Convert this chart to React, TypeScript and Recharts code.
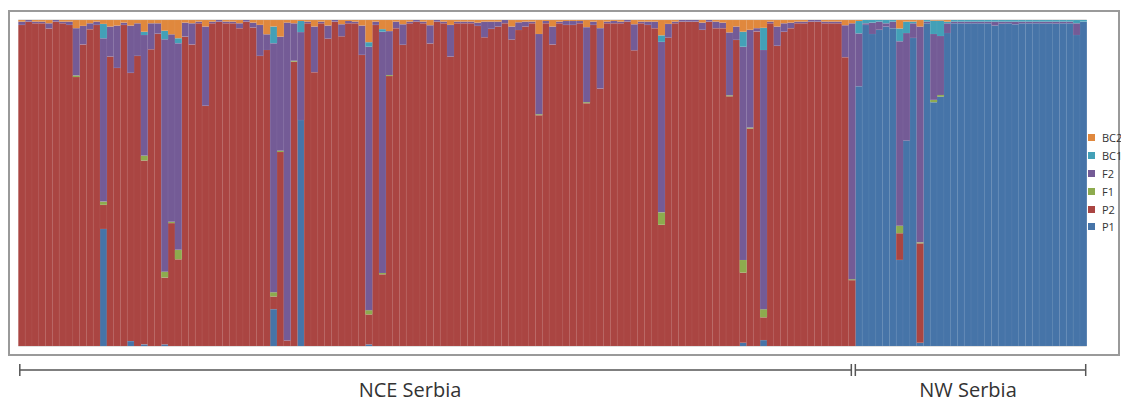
import { BarChart, Bar, XAxis, YAxis, CartesianGrid } from 'recharts';

// stack order bottom -> top
const seriesKeys = ['P1', 'P2', 'F1', 'F2', 'BC1', 'BC2'];
const seriesColors: Record<string, string> = {
  P1: '#4674a8',
  P2: '#aa4542',
  F1: '#8dab4e',
  F2: '#745b96',
  BC1: '#43a0b7',
  BC2: '#e0883d',
};
const legendOrder = ['BC2', 'BC1', 'F2', 'F1', 'P2', 'P1'];

const groups = [
  { name: 'NCE Serbia', count: 123 },
  { name: 'NW Serbia', count: 34 },
];

const yTicks = [0, 0.1, 0.2, 0.3, 0.4, 0.5, 0.6, 0.7, 0.8, 0.9, 1];

const p1 = [
  0, 0, 0, 0, 0, 0, 0, 0, 0, 0,
  0, 0, .359, 0, 0, 0, .015, 0, .005, 0,
  0, .005, 0, 0, 0, 0, 0, 0, 0, 0,
  0, 0, 0, 0, 0, 0, 0, .113, 0, 0,
  0, .693, 0, 0, 0, 0, 0, 0, 0, 0,
  0, .005, 0, 0, 0, 0, 0, 0, 0, 0,
  0, 0, 0, 0, 0, 0, 0, 0, 0, 0,
  0, 0, 0, 0, 0, 0, 0, 0, 0, 0,
  0, 0, 0, 0, 0, 0, 0, 0, 0, 0,
  0, 0, 0, 0, 0, 0, 0, 0, 0, 0,
  0, 0, 0, 0, 0, 0, .01, 0, 0, .018,
  0, 0, 0, 0, 0, 0, 0, 0, 0, 0,
  0, 0, 0, .797, .985, .957, .97, .98, .975, .264,
  .63, .945, .01, .99, .748, .765, .96, .99, .99, .99,
  .99, .99, .99, .983, .989, .99, .987, .99, .99, .99,
  .99, .99, .989, .99, .99, .954, .995,
];

const p2 = [
  .985, .995, .99, .99, .974, .995, .99, .985, .825, .925,
  .972, .985, .074, .888, .853, .985, .823, .89, .564, .91,
  .958, .205, .377, .266, .949, .925, .99, .737, .99, .995,
  .99, .99, .975, .995, .977, .89, .908, .039, .595, .017,
  .872, 0, .99, .84, .99, .943, .995, .95, .99, .99,
  .893, .092, .985, .22, .828, .975, .924, .99, .995, .99,
  .928, .995, .99, .888, .99, .99, .99, .982, .947, .973,
  .98, .99, .94, .969, .98, .99, .708, .99, .925, .99,
  .985, .985, .99, .745, .985, .79, .99, .99, .99, .995,
  .907, .99, .985, .975, .372, .946, .99, .995, .995, .995,
  .97, .995, .975, .975, .766, .939, .215, .667, .965, .07,
  .99, .921, .964, .975, .99, .99, .995, .995, .99, .99,
  .99, .886, .202, 0, 0, 0, 0, 0, 0, .082,
  0, 0, .305, 0, 0, 0, 0, 0, 0, 0,
  0, 0, 0, 0, 0, 0, 0, 0, 0, 0,
  0, 0, 0, 0, 0, 0, 0,
];

const f1 = [
  0, 0, 0, 0, 0, 0, 0, 0, .005, 0,
  0, 0, .01, 0, 0, 0, 0, 0, .015, 0,
  0, .018, .004, .029, 0, 0, 0, 0, 0, 0,
  0, 0, 0, 0, 0, 0, 0, .013, .004, 0,
  .003, 0, 0, 0, 0, 0, 0, 0, 0, 0,
  0, .013, 0, .004, .003, 0, 0, 0, 0, 0,
  0, 0, 0, 0, 0, 0, 0, 0, 0, 0,
  0, 0, 0, 0, 0, 0, .003, 0, 0, 0,
  0, 0, 0, .003, 0, 0, 0, 0, 0, 0,
  0, 0, 0, 0, .038, 0, 0, 0, 0, 0,
  0, 0, 0, 0, .003, 0, .039, .003, 0, .025,
  0, 0, 0, 0, 0, 0, 0, 0, 0, 0,
  0, 0, .003, 0, 0, 0, 0, 0, 0, .023,
  0, 0, .003, 0, .007, .005, 0, 0, 0, 0,
  0, 0, 0, 0, 0, 0, 0, 0, 0, 0,
  0, 0, 0, 0, 0, 0, 0,
];

const f2 = [
  .01, .005, .005, .005, .016, .005, .005, .01, .145, .057,
  .018, .01, .501, .092, .13, .007, .145, .1, .37, .08,
  .032, .713, .575, .634, .043, .065, .005, .243, .005, .005,
  .005, .005, .015, .005, .015, .095, .048, .764, .35, .975,
  .115, .27, .005, .14, .005, .04, .005, .037, .007, .005,
  .09, .808, .01, .74, .135, .02, .063, .005, .005, .005,
  .056, .005, .005, .097, .005, .005, .005, .01, .048, .022,
  .015, .01, .04, .024, .015, .005, .246, .007, .055, .005,
  .012, .012, .007, .23, .01, .185, .005, .007, .005, .005,
  .08, .005, .01, .02, .523, .042, .005, .005, .005, .005,
  .022, .005, .02, .017, .193, .041, .654, .3, .01, .795,
  .005, .059, .026, .017, .005, .005, .005, .005, .005, .005,
  .005, .098, .785, .162, .005, .035, .025, .01, .02, .566,
  .33, .045, .662, .005, .202, .181, .03, .005, .005, .005,
  .005, .005, .005, .012, .006, .005, .008, .005, .005, .005,
  .005, .005, .006, .005, .005, .036, 0,
];

const bc1 = [
  0, 0, 0, 0, 0, 0, 0, 0, 0, 0,
  0, 0, .044, 0, 0, 0, 0, 0, .01, 0,
  0, .026, 0, .015, 0, 0, 0, 0, 0, 0,
  0, 0, 0, 0, 0, 0, 0, .051, 0, 0,
  0, .034, 0, 0, 0, 0, 0, 0, 0, 0,
  0, .014, 0, .008, 0, 0, 0, 0, 0, 0,
  0, 0, 0, 0, 0, 0, 0, 0, 0, 0,
  0, 0, 0, 0, 0, 0, 0, 0, 0, 0,
  0, 0, 0, 0, 0, 0, 0, 0, 0, 0,
  0, 0, 0, 0, .02, 0, 0, 0, 0, 0,
  0, 0, 0, 0, 0, 0, .046, 0, 0, .068,
  0, 0, 0, 0, 0, 0, 0, 0, 0, 0,
  0, 0, 0, .038, .01, .008, .005, .01, .005, .039,
  .035, .005, 0, .005, .041, .047, .005, .005, .005, .005,
  .005, .005, .005, .005, .005, .005, .005, .005, .005, .005,
  .005, .005, .005, .005, .005, .01, .005,
];

const bc2 = [
  .005, 0, .005, .005, .01, 0, .005, .005, .025, .018,
  .01, .005, .012, .02, .017, .008, .017, .01, .036, .01,
  .01, .033, .044, .056, .008, .01, .005, .02, .005, 0,
  .005, .005, .01, 0, .008, .015, .044, .02, .051, .008,
  .01, .003, .005, .02, .005, .017, 0, .013, .003, .005,
  .017, .068, .005, .028, .034, .005, .013, .005, 0, .005,
  .016, 0, .005, .015, .005, .005, .005, .008, .005, .005,
  .005, 0, .02, .007, .005, .005, .043, .003, .02, .005,
  .003, .003, .003, .022, .005, .025, .005, .003, .005, 0,
  .013, .005, .005, .005, .047, .012, .005, 0, 0, 0,
  .008, 0, .005, .008, .038, .02, .036, .03, .025, .024,
  .005, .02, .01, .008, .005, .005, 0, 0, .005, .005,
  .005, .016, .01, .003, 0, 0, 0, 0, 0, .026,
  .005, .005, .02, 0, .002, .002, .005, 0, 0, 0,
  0, 0, 0, 0, 0, 0, 0, 0, 0, 0,
  0, 0, 0, 0, 0, 0, 0,
];

const chartData = p1.map((v, i) => ({
  id: i + 1,
  P1: v,
  P2: p2[i],
  F1: f1[i],
  F2: f2[i],
  BC1: bc1[i],
  BC2: bc2[i],
}));

const W = 1112;
const H = 352;
const margin = { top: 12, right: 33.3, bottom: 14, left: 10.3 };
const plotW = W - margin.left - margin.right;
const band = plotW / chartData.length;
const splitX = margin.left + band * groups[0].count;
const plotRight = margin.left + plotW;

export default function App() {
  const bracketY = 362;
  return (
    <div style={{ position: 'relative', width: 1113, height: 395, fontFamily: '"Open Sans", sans-serif' }}>
      <div
        style={{
          position: 'absolute', left: 0, top: 2, width: 1112, height: 346,
          border: '2px solid #9a9a9a', boxSizing: 'border-box',
        }}
      />
      <div style={{ position: 'absolute', left: 0, top: 0 }}>
        <BarChart width={W} height={H} data={chartData} margin={margin} barCategoryGap={0}>
          <CartesianGrid vertical={false} stroke="#c4c4c4" />
          <XAxis dataKey="id" tick={false} tickLine={false} height={0} axisLine={{ stroke: '#a0a0a0' }} />
          <YAxis
            domain={[0, 1]}
            ticks={yTicks}
            allowDataOverflow
            width={0}
            tick={false}
            tickLine={false}
            axisLine={{ stroke: '#a0a0a0' }}
          />
          {seriesKeys.map((k) => (
            <Bar
              key={k}
              dataKey={k}
              stackId="a"
              fill={seriesColors[k]}
              stroke="#ffffff"
              strokeOpacity={0.09}
              strokeWidth={0.5}
              isAnimationActive={false}
            />
          ))}
        </BarChart>
      </div>

      {/* legend */}
      <div style={{ position: 'absolute', left: 1080, top: 121, width: 33, fontSize: 11, color: '#333', whiteSpace: 'nowrap' }}>
        {legendOrder.map((k) => (
          <div key={k} style={{ display: 'flex', alignItems: 'center', height: 17.8 }}>
            <span style={{ flex: 'none', width: 7, height: 7, background: seriesColors[k], display: 'inline-block', marginRight: 7 }} />
            <span style={{ flex: 'none' }}>{k}</span>
          </div>
        ))}
      </div>

      {/* population brackets */}
      <svg style={{ position: 'absolute', left: 0, top: 0 }} width={1113} height={395}>
        <g stroke="#555" strokeWidth={1.5}>
          <line x1={margin.left + 1.5} x2={splitX - 4} y1={bracketY} y2={bracketY} />
          <line x1={splitX} x2={plotRight - 1} y1={bracketY} y2={bracketY} />
          <line x1={margin.left + 1.5} x2={margin.left + 1.5} y1={bracketY - 6} y2={bracketY + 6} />
          <line x1={splitX - 4} x2={splitX - 4} y1={bracketY - 6} y2={bracketY + 6} />
          <line x1={splitX} x2={splitX} y1={bracketY - 6} y2={bracketY + 6} />
          <line x1={plotRight - 1} x2={plotRight - 1} y1={bracketY - 6} y2={bracketY + 6} />
        </g>
        <text x={402} y={389} textAnchor="middle" fontSize={20} fill="#333" fontFamily='"Open Sans", sans-serif'>
          {groups[0].name}
        </text>
        <text x={960} y={389} textAnchor="middle" fontSize={20} fill="#333" fontFamily='"Open Sans", sans-serif'>
          {groups[1].name}
        </text>
      </svg>
    </div>
  );
}
